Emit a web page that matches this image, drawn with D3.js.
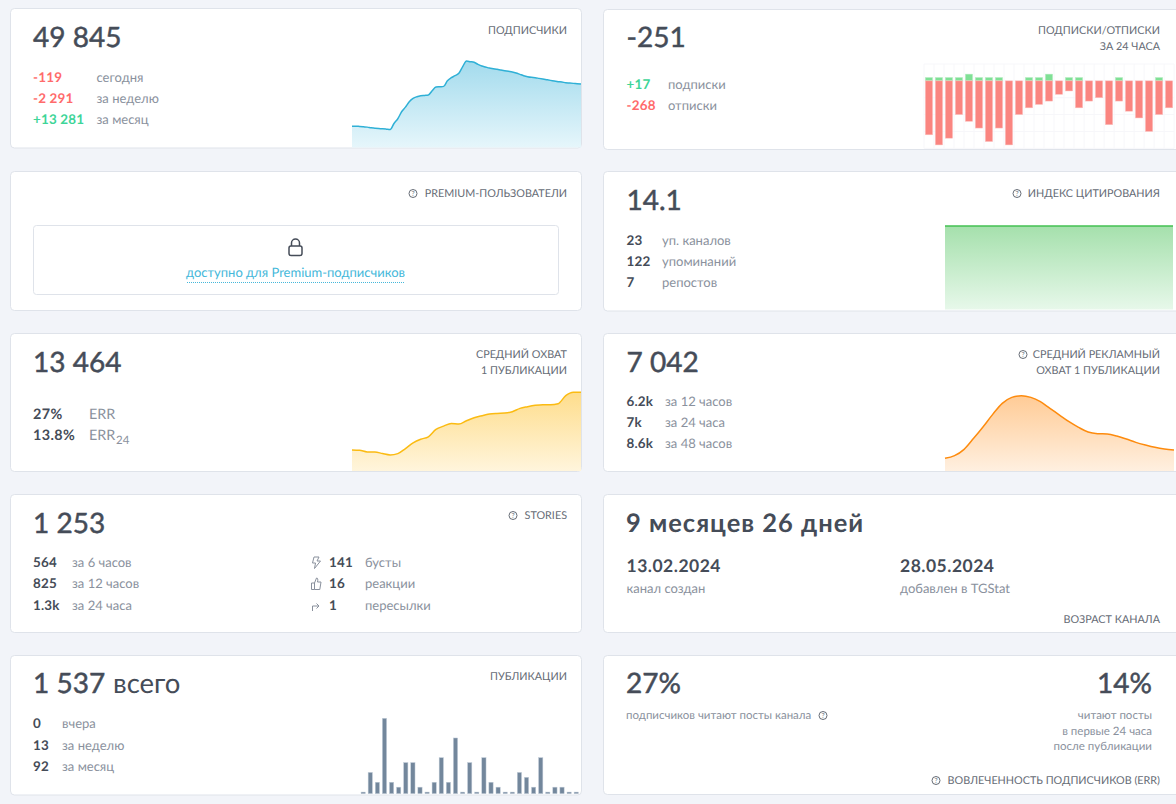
<!DOCTYPE html>
<html>
<head>
<meta charset="utf-8">
<script src="https://cdn.jsdelivr.net/npm/d3@7"></script>
<style>
html, body { margin: 0; padding: 0; background: #f2f4f9; overflow: hidden; }
text { font-family: "Lato", "Noto Sans", sans-serif; text-rendering: geometricPrecision; }
</style>
</head>
<body>
<svg id="chart" width="1176" height="804"></svg>
<script>
// values
const subscribers = [36527, 36527, 36421, 36316, 36210, 35999, 35893, 35787, 35681, 35576, 35470,
    37373, 38852, 41072, 42552, 44243, 45300, 45829, 46146, 46251, 46357, 47731, 48894, 48999, 49105,
    50902, 51853, 52488, 53227, 55341, 57138, 56927, 56716, 56082, 55553, 55236, 54919, 54707, 54496,
    54285, 54073, 53862, 53650, 53333, 52910, 52488, 52170, 51959, 51853, 51642, 51431, 51219, 51008,
    50796, 50585, 50479, 50268, 50162, 50056, 49951, 49845];
const subscribed = [1, 1, 1, 1, 2, 1, 1, 1, 0, 0, 1, 1, 2, 0, 1, 1, 0, 0, 0, 1, 0, 0, 0, 1, 0];
const unsubscribed = [16, 19, 17, 10, 12, 14, 18, 14, 19, 10, 8, 7, 6, 4, 3, 8, 6, 5, 13, 6, 9, 11, 15, 10, 8];
const citation = [14.1, 14.1, 14.1, 14.1, 14.1, 14.1, 14.1, 14.1, 14.1, 14.1, 14.1, 14.1, 14.1, 14.1, 14.1];
const avgReach = [10024, 10004, 9904, 9904, 9804, 9724, 9804, 10104, 10444, 10664, 10804, 11244,
    11444, 11604, 11564, 11764, 11944, 12064, 12164, 12204, 12224, 12304, 12504, 12604, 12684,
    12724, 12724, 12784, 13264, 13464, 13464];
const adReach = [380, 460, 650, 980, 1330, 1700, 2030, 2210, 2260, 2210, 2080, 1880, 1680, 1480,
    1310, 1170, 1120, 1110, 1050, 960, 860, 780, 710, 660, 630];
const posts = [0, 4, 2, 15, 2, 1, 6, 6, 1, 0, 2, 7, 2, 11, 0, 6, 0, 7, 2, 1, 0, 0, 4, 3, 1, 7, 0, 1, 1, 0, 0];

const subscriberRows = [["-119", "сегодня"], ["-2 291", "за неделю"], ["+13 281", "за месяц"]];
const flowRows = [["+17", "подписки"], ["-268", "отписки"]];
const citationRows = [["23", "уп. каналов"], ["122", "упоминаний"], ["7", "репостов"]];
const errRows = [["27%", "ERR"], ["13.8%", "ERR"]];
const adRows = [["6.2k", "за 12 часов"], ["7k", "за 24 часа"], ["8.6k", "за 48 часов"]];
const storyRows = [["564", "за 6 часов"], ["825", "за 12 часов"], ["1.3k", "за 24 часа"]];
const storyExtraRows = [["141", "бусты"], ["16", "реакции"], ["1", "пересылки"]];
const postRows = [["0", "вчера"], ["13", "за неделю"], ["92", "за месяц"]];

const DARK = "#454c58", GREY = "#8a919d", TITLE = "#666c76", RED = "#ff6b6b", GREEN = "#3ed598";

const svg = d3.select("#chart");
const defs = svg.append("defs");

// Background and white panels.
svg.append("rect").attr("width", 1176).attr("height", 804).attr("fill", "#f2f4f9");
const panels = [
    [10.5, 8.5, 571, 139.5], [603.5, 9.5, 580, 140],
    [10.5, 171.5, 571, 139], [603.5, 171.5, 580, 139.5],
    [10.5, 333.5, 571, 138], [603.5, 333.5, 580, 138],
    [10.5, 494.5, 571, 138], [603.5, 494.5, 580, 138],
    [10.5, 655.5, 571, 139.5], [603.5, 655.5, 580, 139]
];
svg.append("g").selectAll("rect").data(panels).join("rect")
    .attr("x", d => d[0]).attr("y", d => d[1])
    .attr("width", d => d[2]).attr("height", d => d[3])
    .attr("rx", 4)
    .attr("fill", "#fff").attr("stroke", "#dfe3ea");

function label(x, y, str, size, color, opts) {
    opts = opts || {};
    return svg.append("text")
        .attr("x", x).attr("y", y)
        .attr("font-size", size)
        .attr("font-weight", opts.weight || 400)
        .attr("text-anchor", opts.anchor || "start")
        .attr("fill", color)
        .text(str);
}

// Headline numbers: a thin outline stands in for the semibold weight.
function big(x, y, str, anchor) {
    return label(x, y, str, 28, DARK, { anchor: anchor })
        .attr("stroke", DARK).attr("stroke-width", 0.5);
}

function title(y, str, right) {
    return label(right, y, str, 10.8, TITLE, { anchor: "end" });
}

function helpIcon(cx, cy) {
    svg.append("circle").attr("cx", cx).attr("cy", cy).attr("r", 4)
        .attr("fill", "none").attr("stroke", TITLE).attr("stroke-width", 1);
    label(cx, cy + 2.5, "?", 7, TITLE, { anchor: "middle" });
}

function rows(data, x, xLabel, ys, colorFn, size) {
    data.forEach((d, i) => {
        label(x, ys[i], d[0], size || 13.4, colorFn ? colorFn(d[0]) : DARK, { weight: 700 })
            .attr("letter-spacing", size ? 0.4 : 0.2);
        label(xLabel, ys[i], d[1], size || 13, GREY);
    });
}

const signColor = v => v[0] === "+" ? GREEN : RED;

// Shared area sparkline.
function areaChart(id, values, floor, box, color, stops, curve) {
    const x = d3.scaleLinear().domain([0, values.length - 1]).range([box.x0, box.x1]);
    const y = d3.scaleLinear().domain([floor, d3.max(values)]).range([box.base, box.top]);

    const grad = defs.append("linearGradient").attr("id", id)
        .attr("x1", 0).attr("y1", 0).attr("x2", 0).attr("y2", 1);
    grad.append("stop").attr("offset", "0%").attr("stop-color", stops[0]);
    grad.append("stop").attr("offset", "100%").attr("stop-color", stops[1]);

    const area = d3.area().x((d, i) => x(i)).y0(box.base).y1(d => y(d)).curve(curve);
    const line = d3.line().x((d, i) => x(i)).y(d => y(d)).curve(curve);

    svg.append("path").datum(values).attr("d", area).attr("fill", `url(#${id})`);
    svg.append("path").datum(values).attr("d", line)
        .attr("fill", "none").attr("stroke", color).attr("stroke-width", 1.5);
}

// Subscribers.
big(33, 47, "49 845");
title(34, "ПОДПИСЧИКИ", 567);
rows(subscriberRows, 33, 96.5, [82, 103, 124], signColor);
areaChart("g-sub", subscribers, 29762, { x0: 352, x1: 581, base: 147.5, top: 61 },
    "#2fb0d6", ["#a3dbed", "#e6f6fb"], d3.curveMonotoneX);

// Subscribe / unsubscribe balance.
big(626.5, 47, "-251");
title(34, "ПОДПИСКИ/ОТПИСКИ", 1160);
title(50, "ЗА 24 ЧАСА", 1160);
rows(flowRows, 626.5, 668, [89, 110], signColor);
{
    const x = d3.scaleBand().domain(d3.range(unsubscribed.length)).range([924, 1174]).paddingInner(0.27).paddingOuter(0.13);
    const y = d3.scaleLinear().domain([-20, 5]).range([148.3, 64]);
    const grid = svg.append("g").attr("stroke", "#f7f7fa");
    grid.selectAll("line.h").data(d3.range(-20, 6, 5)).join("line")
        .attr("class", "h").attr("x1", 924).attr("x2", 1174)
        .attr("y1", d => y(d)).attr("y2", d => y(d));
    grid.selectAll("line.v").data(d3.range(unsubscribed.length + 1)).join("line")
        .attr("class", "v").attr("y1", 64).attr("y2", 148.3)
        .attr("x1", d => 924 + d * x.step()).attr("x2", d => 924 + d * x.step());
    svg.append("g").selectAll("rect").data(subscribed).join("rect")
        .attr("x", (d, i) => x(i)).attr("width", x.bandwidth())
        .attr("y", d => y(d)).attr("height", d => y(0) - y(d))
        .attr("fill", "#7fe095").attr("stroke", "#bdeec8").attr("stroke-width", 0.5);
    svg.append("g").selectAll("rect").data(unsubscribed).join("rect")
        .attr("x", (d, i) => x(i)).attr("width", x.bandwidth())
        .attr("y", y(0)).attr("height", d => y(-d) - y(0))
        .attr("fill", "#fa8580").attr("stroke", "#fcc4c1").attr("stroke-width", 0.5);
}

// Premium users (locked).
title(197, "PREMIUM-ПОЛЬЗОВАТЕЛИ", 567);
helpIcon(413, 193.5);
svg.append("rect").attr("x", 33.5).attr("y", 225.5).attr("width", 525).attr("height", 69)
    .attr("rx", 3).attr("fill", "#fff").attr("stroke", "#dfe3ea");
svg.append("rect").attr("x", 289).attr("y", 246).attr("width", 13).attr("height", 9.5).attr("rx", 2)
    .attr("fill", "none").attr("stroke", DARK).attr("stroke-width", 1.5);
svg.append("path").attr("d", "M291.5,246 v-3 a4,4 0 0 1 8,0 v3")
    .attr("fill", "none").attr("stroke", DARK).attr("stroke-width", 1.5);
label(295.5, 277, "доступно для Premium-подписчиков", 13, "#45b8da", { anchor: "middle" });
svg.append("line").attr("x1", 187).attr("x2", 404).attr("y1", 282.5).attr("y2", 282.5)
    .attr("stroke", "#45b8da").attr("stroke-dasharray", "1 1");

// Citation index.
big(626.5, 210, "14.1");
title(197, "ИНДЕКС ЦИТИРОВАНИЯ", 1160);
helpIcon(1017, 193.5);
rows(citationRows, 626.5, 662, [245, 266, 287]);
areaChart("g-cit", citation, 9.9, { x0: 945, x1: 1173, base: 309.5, top: 226 },
    "#43c152", ["#a5e0ac", "#e7f8ea"], d3.curveLinear);

// Average reach.
big(33, 372, "13 464");
title(358, "СРЕДНИЙ ОХВАТ", 567);
title(374, "1 ПУБЛИКАЦИИ", 567);
rows(errRows, 33, 89, [419, 440], null, 14.4);
label(116, 444, "24", 11.5, GREY);
areaChart("g-reach", avgReach, 8764, { x0: 352, x1: 581, base: 471, top: 392.3 },
    "#fbbb12", ["#fedd8c", "#fff5dc"], d3.curveMonotoneX);

// Average ad reach.
big(626.5, 372, "7 042");
title(358, "СРЕДНИЙ РЕКЛАМНЫЙ", 1160);
title(374, "ОХВАТ 1 ПУБЛИКАЦИИ", 1160);
helpIcon(1023, 354.5);
rows(adRows, 626.5, 665, [406, 427, 448]);
areaChart("g-ad", adReach, 0, { x0: 945, x1: 1174, base: 471, top: 395.7 },
    "#fd8b0e", ["#ffcb96", "#fff0e0"], d3.curveMonotoneX);

// Stories.
big(33, 533, "1 253");
title(519, "STORIES", 567);
helpIcon(513, 515.5);
rows(storyRows, 33, 72, [567, 588, 610]);
rows(storyExtraRows, 329, 365, [567, 588, 610]);
const iconStyle = sel => sel.attr("fill", "none").attr("stroke", GREY).attr("stroke-width", 1);
iconStyle(svg.append("path").attr("d", "M314,557 h5 l-2,4 h3.5 l-6,7.5 l1,-5.5 h-3 z"));
iconStyle(svg.append("path").attr("d", "M311.5,583 h3 v6.5 h-3 z M314.5,583 l2,-5 c1.5,0 1.5,1.5 1,4 h3.5 l-1.2,7.5 h-5.3"));
iconStyle(svg.append("path").attr("d", "M312.5,611 v-5 h6.5 M316.5,603.5 l2.5,2.5 l-2.5,2.5"));

// Channel age.
label(626, 532, "9 месяцев 26 дней", 25.5, DARK, { weight: 700 }).attr("letter-spacing", 1);
label(626.5, 572, "13.02.2024", 17.5, DARK, { weight: 700 }).attr("letter-spacing", 0.5);
label(626.5, 593, "канал создан", 13, GREY);
label(900, 572, "28.05.2024", 17.5, DARK, { weight: 700 }).attr("letter-spacing", 0.5);
label(900, 593, "добавлен в TGStat", 13, GREY);
title(623, "ВОЗРАСТ КАНАЛА", 1160);

// Publications.
big(33, 693, "1 537");
label(113, 693, "всего", 27.5, DARK);
title(680, "ПУБЛИКАЦИИ", 567);
rows(postRows, 33, 62, [728, 750, 771]);
{
    const x = d3.scaleBand().domain(d3.range(posts.length)).range([358.2, 581.2]).padding(0.4);
    const y = d3.scaleLinear().domain([-0.33, 15]).range([793.7, 718.3]);
    svg.append("g").selectAll("rect").data(posts).join("rect")
        .attr("x", (d, i) => x(i)).attr("width", x.bandwidth())
        .attr("y", d => y(d)).attr("height", d => y(-0.33) - y(d))
        .attr("fill", "#73879c").attr("stroke", "#c3ced9").attr("stroke-width", 0.5);
}

// Engagement.
big(626, 693, "27%");
big(1152, 693, "14%", "end");
label(626, 719, "подписчиков читают посты канала", 11.5, GREY);
helpIcon(823, 715.5);
label(1152, 719, "читают посты", 11.5, GREY, { anchor: "end" });
label(1152, 735, "в первые 24 часа", 11.5, GREY, { anchor: "end" });
label(1152, 750, "после публикации", 11.5, GREY, { anchor: "end" });
title(784, "ВОВЛЕЧЕННОСТЬ ПОДПИСЧИКОВ (ERR)", 1160);
helpIcon(936, 780.5);
</script>
</body>
</html>
